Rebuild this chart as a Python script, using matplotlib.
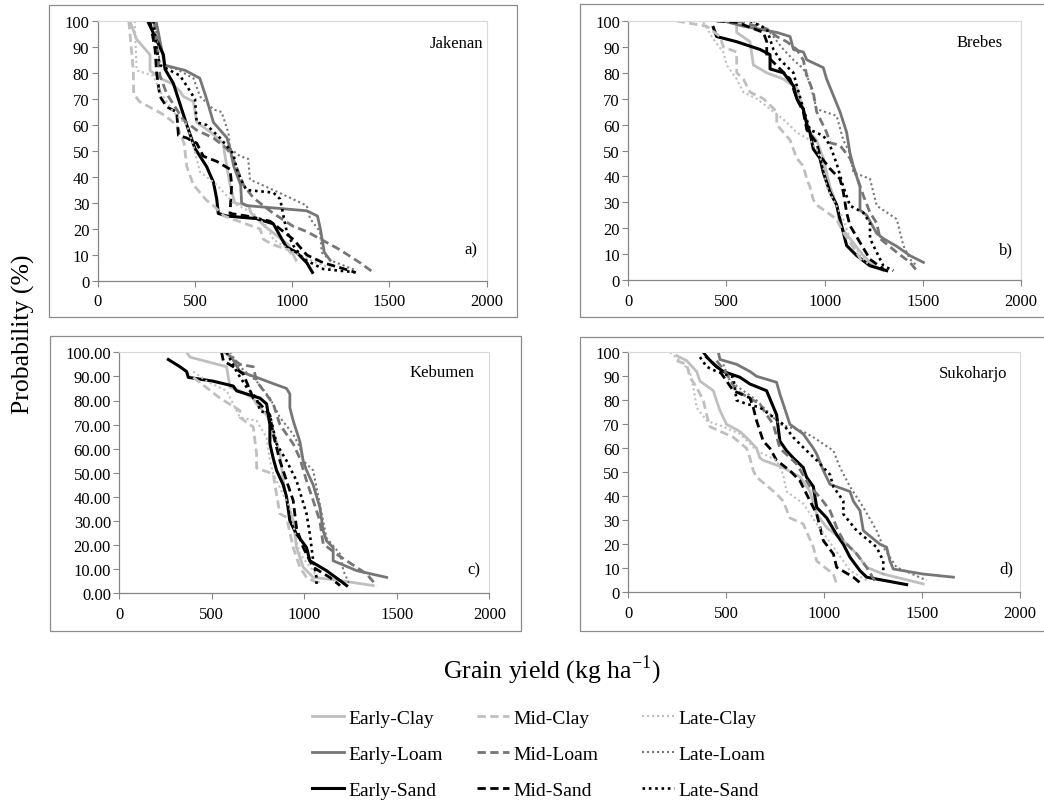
import matplotlib
matplotlib.use("Agg")
import matplotlib.pyplot as plt
from matplotlib.lines import Line2D
from matplotlib.patches import Rectangle
from matplotlib.ticker import FormatStrFormatter

plt.rcParams["font.family"] = ["Liberation Serif", "DejaVu Serif"]
plt.rcParams["mathtext.fontset"] = "custom"
plt.rcParams["mathtext.rm"] = "Liberation Serif"

# (grain yield kg/ha, exceedance probability %)
JAKENAN = {
    "Early-Clay": ([165, 200, 269, 269, 320, 380, 423, 440, 492, 509, 585, 645, 655, 680, 705, 775, 790, 860, 980, 1020],
                   [100, 93, 87, 81, 78, 76, 73, 71, 69, 61, 57, 53, 48, 37, 30, 29, 26, 21, 14, 8]),
    "Early-Loam": ([300, 345, 450, 525, 560, 595, 665, 680, 700, 735, 740, 765, 1075, 1130, 1145, 1165, 1195],
                   [100, 83, 81, 78, 70, 61, 55, 51, 44, 37, 30, 29, 27, 25, 20, 11, 8]),
    "Early-Sand": ([257, 338, 346, 389, 432, 458, 500, 560, 595, 612, 620, 663, 817, 903, 955, 972, 1023, 1075, 1104],
                   [100, 87, 81.5, 76, 66, 60, 51, 44, 38, 31.5, 26, 25, 24, 22, 15, 13, 11, 7, 3.3]),
    "Mid-Clay": ([160, 183, 185, 215, 338, 406, 444, 458, 492, 560, 595, 650, 835, 852, 900, 980, 1000],
                 [100, 81, 72, 69, 64, 60, 53, 44, 37, 31, 29, 25, 20, 16, 14, 12, 10]),
    "Mid-Loam": ([290, 320, 355, 406, 440, 509, 595, 663, 697, 749, 800, 903, 1006, 1075, 1246, 1349, 1417],
                 [100, 79, 72, 66, 62, 58, 55, 51, 47, 37, 32, 26, 21, 19, 12, 7, 3.3]),
    "Mid-Sand": ([269, 295, 303, 320, 355, 406, 415, 458, 509, 543, 612, 680, 689, 680, 766, 886, 938, 1006, 1075, 1160, 1297, 1323],
                 [100, 89, 80, 71, 67, 65, 56, 55, 53, 48, 46, 43, 37, 26, 25, 23, 20, 16, 10, 7, 4, 3.3]),
    "Late-Clay": ([190, 200, 286, 320, 389, 458, 492, 526, 612, 697, 800, 869, 903, 1006, 1126, 1212],
                  [100, 81, 79, 73, 65, 60, 52, 42, 37, 30, 26, 21, 16, 11, 7, 4.6]),
    "Late-Loam": ([295, 320, 406, 492, 526, 595, 637, 672, 680, 732, 774, 783, 903, 1075, 1092, 1143, 1152, 1195, 1332],
                  [100, 83, 81.5, 78, 71, 66, 65, 57, 51, 48, 47, 39, 35, 29, 24, 19, 11, 8, 4]),
    "Late-Sand": ([286, 303, 320, 423, 458, 500, 509, 560, 629, 697, 715, 749, 766, 903, 938, 955, 972, 1006, 1057, 1160, 1332],
                  [100, 89, 83, 79, 75, 70, 61, 60, 55, 49, 43, 37, 35, 34, 31.5, 25, 19, 13.6, 8.5, 4.6, 3.3]),
}

BREBES = {
    "Early-Clay": ([552, 552, 620, 637, 705, 790, 858, 891, 925, 959, 993, 1027, 1061, 1078, 1129, 1197, 1248, 1299],
                   [99.5, 95.6, 92, 83, 80, 77.6, 74, 66, 57, 54, 47, 36, 29, 21, 16, 9.4, 5.5, 3.6]),
    "Early-Loam": ([484, 586, 756, 824, 841, 892, 909, 993, 1010, 1078, 1112, 1129, 1146, 1180, 1180, 1214, 1265, 1299, 1367, 1435, 1503],
                   [100, 98, 95.6, 94, 89, 88, 85, 82, 77.6, 65, 57, 49, 44, 36, 27, 25, 18, 16, 13, 9.4, 6.8]),
    "Early-Sand": ([433, 450, 552, 671, 722, 722, 790, 841, 858, 891, 909, 925, 942, 976, 993, 1027, 1061, 1078, 1095, 1112, 1163, 1231, 1316],
                   [97.5, 94, 92, 89, 87, 81.5, 80, 75, 70, 66, 60, 57, 50.6, 47, 41.6, 34, 29, 23.5, 18.4, 13.3, 9.4, 5.5, 3.6]),
    "Mid-Clay": ([246, 399, 467, 484, 552, 552, 586, 620, 688, 756, 756, 790, 824, 858, 891, 909, 925, 942, 959, 1061, 1095, 1129, 1163, 1197],
                 [100, 98, 94, 90, 88, 80, 77.6, 72.5, 70, 65, 60, 57, 54, 47, 44, 39, 36, 31, 29, 23.5, 18.4, 14.5, 10.7, 6]),
    "Mid-Loam": ([552, 705, 756, 807, 858, 891, 909, 942, 959, 1010, 1027, 1078, 1129, 1163, 1197, 1231, 1265, 1282, 1367, 1435, 1469],
                 [100, 97, 94, 92, 89, 85, 79, 72.5, 65, 57, 53, 52, 47, 40, 32.6, 26, 22, 16, 10.7, 6.8, 3.6]),
    "Mid-Sand": ([450, 552, 688, 705, 705, 756, 824, 858, 891, 909, 959, 976, 1027, 1078, 1095, 1112, 1129, 1180, 1231, 1299],
                 [100, 99.5, 95.6, 92, 86.6, 82.8, 77.6, 70, 65, 58, 53, 48, 43, 39, 34, 26, 21, 14.5, 8, 4.2]),
    "Late-Clay": ([382, 433, 484, 501, 552, 586, 654, 722, 790, 858, 925, 959, 993, 1010, 1044, 1095, 1129, 1180, 1231],
                  [99.5, 93, 88, 83, 77.6, 72.5, 70, 66, 62, 57, 54, 50.5, 44, 36, 31, 23.5, 16, 9.4, 5.5]),
    "Late-Loam": ([637, 722, 790, 841, 892, 925, 959, 1061, 1095, 1129, 1146, 1231, 1265, 1367, 1401, 1435, 1469],
                  [100, 95.6, 89, 85, 81.5, 76, 66, 63.4, 54, 49, 41.6, 39, 28.7, 23.5, 13.3, 8, 5.5]),
    "Late-Sand": ([620, 705, 739, 773, 841, 858, 892, 925, 993, 1027, 1061, 1095, 1129, 1197, 1231, 1231, 1265, 1299, 1350],
                  [100, 97, 89, 85, 80, 75, 66, 58, 55.7, 52, 45, 36, 28.7, 26, 22, 16, 10.7, 5.5, 3.6]),
}

KEBUMEN = {
    "Early-Clay": ([364, 382, 580, 598, 652, 724, 742, 796, 832, 868, 886, 904, 940, 958, 994, 1048, 1193, 1373],
                   [100, 98, 94, 85.5, 84, 81, 78.6, 74, 67.5, 58, 47, 38.5, 30, 19, 10.8, 6.6, 5.3, 3.2]),
    "Early-Loam": ([607, 652, 742, 832, 904, 922, 922, 940, 976, 994, 1012, 1048, 1084, 1102, 1120, 1156, 1156, 1283, 1445],
                   [98, 92, 89.6, 87, 85, 82.7, 77, 71.6, 63, 55, 51, 45, 35.7, 26, 21.8, 19, 13.5, 9.4, 6.6]),
    "Early-Sand": ([265, 328, 364, 373, 508, 616, 634, 760, 796, 814, 814, 832, 850, 886, 904, 922, 958, 1012, 1030, 1120, 1193, 1229],
                   [97, 94, 92, 89.6, 88, 86, 84, 81, 78.6, 70, 62, 56, 51, 45, 40, 30, 24.6, 19, 13.5, 9.4, 5.3, 3.2]),
    "Mid-Clay": ([400, 544, 652, 652, 724, 742, 742, 832, 850, 868, 904, 940, 976, 1012, 1084],
                 [89.6, 81, 75.8, 73, 69, 58, 52, 49.5, 41, 33, 31.5, 19, 10.8, 6.6, 3.9]),
    "Mid-Loam": ([571, 652, 724, 742, 832, 868, 940, 976, 1012, 1048, 1084, 1102, 1174, 1229, 1337, 1391],
                 [100, 95, 94, 88, 78.6, 70, 62, 56, 46.7, 38.5, 30, 20.5, 16.3, 13.5, 8, 3.2]),
    "Mid-Sand": ([553, 562, 616, 670, 724, 760, 814, 832, 868, 904, 940, 958, 994, 1048, 1138, 1193],
                 [100, 96.5, 94, 91, 81, 78.6, 74, 66, 55, 46.7, 38.5, 27, 19, 10.8, 6.6, 3.2]),
    "Late-Clay": ([400, 472, 580, 652, 742, 796, 814, 832, 886, 922, 958, 976, 1048, 1084],
                  [92, 88, 84, 73, 71.6, 64.7, 55, 49.5, 41, 35.7, 21.8, 16.3, 9.4, 3.9]),
    "Late-Loam": ([598, 652, 742, 814, 868, 940, 976, 994, 1048, 1066, 1102, 1120, 1193, 1211, 1247],
                  [100, 94, 88, 81, 73, 66, 60.6, 55, 51, 44, 30, 23, 16.3, 9.4, 3.2]),
    "Late-Sand": ([580, 634, 688, 742, 760, 814, 850, 904, 958, 1012, 1030, 1048, 1066, 1066],
                  [100, 92, 85.5, 81, 75.8, 74, 62, 55, 46.7, 33, 24.6, 13.5, 6.6, 3.9]),
}

SUKOHARJO = {
    "Early-Clay": ([247, 298, 349, 366, 434, 468, 502, 570, 621, 655, 672, 689, 791, 877, 928, 962, 1013, 1098, 1166, 1217, 1302, 1506],
                   [98.6, 96.5, 92, 88, 84, 75.7, 70, 67, 63, 60, 56, 55, 52, 48, 42, 32.6, 27, 21.5, 16, 10.4, 7.6, 3.5]),
    "Early-Loam": ([460, 468, 553, 621, 655, 757, 774, 791, 825, 893, 945, 962, 996, 1030, 1132, 1149, 1183, 1200, 1285, 1319, 1336, 1353, 1506, 1660],
                   [100, 97, 95, 92, 90, 87.5, 82.6, 78.5, 70, 66, 60, 57.6, 50.7, 45, 42, 38, 34, 25.7, 20, 18.8, 13, 9.7, 7.6, 6.3]),
    "Early-Sand": ([400, 451, 485, 570, 621, 706, 757, 774, 808, 842, 893, 910, 945, 962, 1013, 1064, 1098, 1132, 1183, 1217, 1421],
                   [98, 94, 92, 89.6, 86.8, 84, 74, 63, 59, 56, 52, 48, 44, 35.4, 31, 24, 20, 14.6, 9, 6.3, 3.2]),
    "Mid-Clay": ([247, 298, 315, 349, 383, 400, 417, 536, 604, 621, 638, 655, 757, 791, 825, 893, 945, 962, 1047, 1064],
                 [96.5, 95, 89.6, 85.4, 80, 74, 69, 64.6, 60, 56, 50.7, 48, 41, 38, 31, 28.5, 18.8, 13, 7.6, 3.5]),
    "Mid-Loam": ([451, 502, 553, 638, 672, 706, 740, 774, 859, 928, 979, 1030, 1064, 1098, 1166, 1217, 1268],
                 [96.5, 91, 84, 80, 78.5, 74, 70, 60, 53.5, 44, 39.6, 34, 27, 21.5, 16, 10.4, 3.5]),
    "Mid-Sand": ([383, 417, 451, 502, 536, 621, 638, 655, 689, 723, 757, 825, 876, 928, 962, 996, 1047, 1064, 1149, 1183],
                 [100, 96.5, 94, 88, 84, 81, 77, 71.5, 63, 60, 55, 50.7, 46.5, 38, 32.6, 21.5, 16, 10.4, 6.3, 4]),
    "Late-Clay": ([213, 264, 315, 332, 349, 400, 485, 570, 621, 655, 757, 791, 808, 893, 962, 1047, 1098, 1132, 1217],
                  [100, 96.5, 92, 85.4, 77, 71.5, 69, 66, 62, 59, 55, 49, 42, 37, 28.5, 18.8, 13, 9, 5]),
    "Late-Loam": ([485, 519, 587, 655, 706, 774, 893, 945, 1047, 1081, 1132, 1200, 1268, 1302, 1370, 1523],
                  [95, 88, 84, 80, 75.7, 70, 67, 64.6, 59, 52, 44, 35.4, 25.7, 18.8, 10.4, 5]),
    "Late-Sand": ([366, 400, 451, 536, 553, 604, 672, 723, 791, 842, 893, 962, 1030, 1047, 1098, 1098, 1166, 1268, 1302, 1302],
                  [98, 94, 92, 89.6, 80, 78.5, 77, 74, 70, 64.6, 60.4, 55, 49, 44, 38, 32.6, 25.7, 18.8, 13, 7.6]),
}

SITES = [("Jakenan", JAKENAN, "a)"), ("Brebes", BREBES, "b)"),
         ("Kebumen", KEBUMEN, "c)"), ("Sukoharjo", SUKOHARJO, "d)")]

SOIL_COLORS = {"Clay": "#BFBFBF", "Loam": "#767676", "Sand": "#000000"}
TIMING_STYLE = {
    "Early": dict(linestyle="-"),
    "Mid": dict(linestyle=(0, (3, 1.6))),
    "Late": dict(linestyle=(0, (1, 1.4))),
}
LINE_WIDTH = {
    ("Early", "Clay"): 2.0, ("Early", "Loam"): 2.0, ("Early", "Sand"): 2.2,
    ("Mid", "Clay"): 2.0, ("Mid", "Loam"): 2.0, ("Mid", "Sand"): 2.0,
    ("Late", "Clay"): 1.5, ("Late", "Loam"): 1.5, ("Late", "Sand"): 1.9,
}
TIMINGS = ["Early", "Mid", "Late"]
SOILS = ["Clay", "Loam", "Sand"]

W, H = 1044, 803
fig = plt.figure(figsize=(W / 100, H / 100), dpi=100)


def fx(px):
    return px / W


def fy(py):
    return 1 - py / H


# axes rectangles in pixel coords: left, top, right, bottom
axes_px = [(97.7, 22, 486.7, 282), (628.3, 22, 1021, 281),
           (119.3, 353.3, 489.3, 594.3), (628.3, 353.3, 1020, 593.3)]
# chart-area frames
frames_px = [(49, 6, 517, 318), (580, 5, 1052, 318),
             (50, 337, 521, 632), (580, 338, 1052, 632)]
name_pos = [(0.99, 0.915), (0.954, 0.919), (0.961, 0.918), (0.967, 0.914)]
tag_pos = [(0.975, 0.12), (0.98, 0.12), (0.977, 0.10), (0.982, 0.10)]

for (l, t, r, b) in frames_px:
    fig.patches.append(Rectangle((fx(l), fy(b)), fx(r) - fx(l), fy(t) - fy(b),
                                 transform=fig.transFigure, fill=False,
                                 edgecolor="#8C8C8C", linewidth=0.9))

for i, (name, data, tag) in enumerate(SITES):
    l, t, r, b = axes_px[i]
    ax = fig.add_axes([fx(l), fy(b), fx(r) - fx(l), fy(t) - fy(b)])
    for timing in TIMINGS:
        for soil in SOILS:
            key = f"{timing}-{soil}"
            xs, ps = data[key]
            ax.plot(xs, ps, color=SOIL_COLORS[soil],
                    linewidth=LINE_WIDTH[(timing, soil)],
                    solid_joinstyle="round", **TIMING_STYLE[timing])
    ax.set_xlim(0, 2000)
    ax.set_ylim(0, 100)
    ax.set_xticks(range(0, 2001, 500))
    ax.set_yticks(range(0, 101, 10))
    if name == "Kebumen":
        ax.yaxis.set_major_formatter(FormatStrFormatter("%.2f"))
    for side in ["top", "right"]:
        ax.spines[side].set_color("#D9D9D9")
        ax.spines[side].set_linewidth(0.8)
    for side in ["left", "bottom"]:
        ax.spines[side].set_color("#868686")
        ax.spines[side].set_linewidth(0.9)
    ax.tick_params(axis="both", labelsize=12, length=4, width=0.8,
                   color="#868686", direction="out")
    ax.tick_params(axis="y", pad=2)
    ax.tick_params(axis="x", pad=5)
    ax.text(*name_pos[i], name, transform=ax.transAxes, ha="right",
            va="center", fontsize=12)
    ax.text(*tag_pos[i], tag, transform=ax.transAxes, ha="right",
            va="center", fontsize=12)

fig.text(0.022, fy(334), "Probability (%)", rotation=90, ha="center",
         va="center", fontsize=18.5)
fig.text(fx(552), fy(670), r"Grain yield (kg ha$^{\mathregular{-1}}$)",
         ha="center", va="center", fontsize=18.5)

# legend: one column per sowing time
col_x = [312, 477, 642]
for j, timing in enumerate(TIMINGS):
    handles = [Line2D([], [], color=SOIL_COLORS[s],
                      linewidth=LINE_WIDTH[(timing, s)], **TIMING_STYLE[timing])
               for s in SOILS]
    labels = [f"{timing}-{s}" for s in SOILS]
    fig.legend(handles, labels, loc="center left",
               bbox_to_anchor=(fx(col_x[j]), fy(755)), frameon=False,
               fontsize=14, handlelength=1.65, handletextpad=0.2,
               labelspacing=0.95, borderpad=0, borderaxespad=0)

fig.savefig("out.png", dpi=100)
